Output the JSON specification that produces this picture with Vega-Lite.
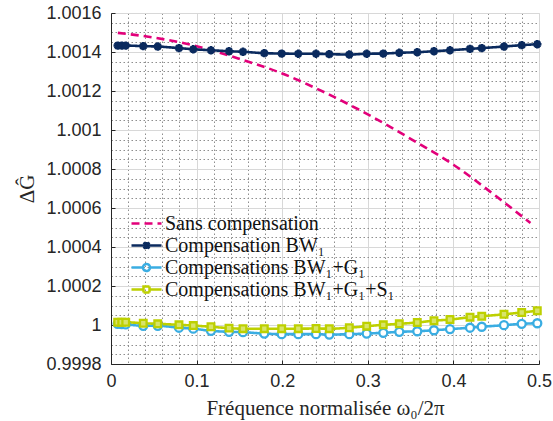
{
  "$schema": "https://vega.github.io/schema/vega-lite/v6.json",
  "width": 428,
  "height": 351,
  "autosize": "none",
  "padding": {"left": 111, "top": 13, "right": 14, "bottom": 57},
  "background": "white",
  "config": {
    "view": {"stroke": "#d9d9d9", "strokeWidth": 1}
  },
  "data": {
    "values": [
      {"s": "Sans compensation", "x": 0.008, "y": 1.001498},
      {"s": "Sans compensation", "x": 0.05, "y": 1.001474},
      {"s": "Sans compensation", "x": 0.1, "y": 1.00143},
      {"s": "Sans compensation", "x": 0.15, "y": 1.001365},
      {"s": "Sans compensation", "x": 0.2, "y": 1.00129},
      {"s": "Sans compensation", "x": 0.25, "y": 1.001192},
      {"s": "Sans compensation", "x": 0.3, "y": 1.00108},
      {"s": "Sans compensation", "x": 0.35, "y": 1.000955},
      {"s": "Sans compensation", "x": 0.4, "y": 1.000822},
      {"s": "Sans compensation", "x": 0.45, "y": 1.00066},
      {"s": "Sans compensation", "x": 0.49, "y": 1.000523},

      {"s": "Compensation BW₁", "x": 0.0078, "y": 1.001433},
      {"s": "Compensation BW₁", "x": 0.0125, "y": 1.001433},
      {"s": "Compensation BW₁", "x": 0.0172, "y": 1.001433},
      {"s": "Compensation BW₁", "x": 0.0377, "y": 1.00143},
      {"s": "Compensation BW₁", "x": 0.0546, "y": 1.001428},
      {"s": "Compensation BW₁", "x": 0.0794, "y": 1.00142},
      {"s": "Compensation BW₁", "x": 0.0961, "y": 1.001414},
      {"s": "Compensation BW₁", "x": 0.1168, "y": 1.001409},
      {"s": "Compensation BW₁", "x": 0.1379, "y": 1.001404},
      {"s": "Compensation BW₁", "x": 0.1542, "y": 1.001401},
      {"s": "Compensation BW₁", "x": 0.1791, "y": 1.001394},
      {"s": "Compensation BW₁", "x": 0.1994, "y": 1.001392},
      {"s": "Compensation BW₁", "x": 0.2188, "y": 1.001391},
      {"s": "Compensation BW₁", "x": 0.2395, "y": 1.001391},
      {"s": "Compensation BW₁", "x": 0.255, "y": 1.001389},
      {"s": "Compensation BW₁", "x": 0.2784, "y": 1.001387},
      {"s": "Compensation BW₁", "x": 0.2987, "y": 1.001391},
      {"s": "Compensation BW₁", "x": 0.3181, "y": 1.001392},
      {"s": "Compensation BW₁", "x": 0.3368, "y": 1.001396},
      {"s": "Compensation BW₁", "x": 0.3578, "y": 1.001399},
      {"s": "Compensation BW₁", "x": 0.3773, "y": 1.001404},
      {"s": "Compensation BW₁", "x": 0.396, "y": 1.001409},
      {"s": "Compensation BW₁", "x": 0.4194, "y": 1.001416},
      {"s": "Compensation BW₁", "x": 0.4331, "y": 1.00142},
      {"s": "Compensation BW₁", "x": 0.4591, "y": 1.001428},
      {"s": "Compensation BW₁", "x": 0.4798, "y": 1.001435},
      {"s": "Compensation BW₁", "x": 0.498, "y": 1.00144},

      {"s": "Compensations BW₁+G₁", "x": 0.0078, "y": 1.000006},
      {"s": "Compensations BW₁+G₁", "x": 0.0125, "y": 1.000004},
      {"s": "Compensations BW₁+G₁", "x": 0.0172, "y": 1.000003},
      {"s": "Compensations BW₁+G₁", "x": 0.0377, "y": 0.999996},
      {"s": "Compensations BW₁+G₁", "x": 0.0546, "y": 0.999996},
      {"s": "Compensations BW₁+G₁", "x": 0.0794, "y": 0.999986},
      {"s": "Compensations BW₁+G₁", "x": 0.0961, "y": 0.999981},
      {"s": "Compensations BW₁+G₁", "x": 0.1168, "y": 0.99997},
      {"s": "Compensations BW₁+G₁", "x": 0.1379, "y": 0.999965},
      {"s": "Compensations BW₁+G₁", "x": 0.1542, "y": 0.999963},
      {"s": "Compensations BW₁+G₁", "x": 0.1791, "y": 0.999956},
      {"s": "Compensations BW₁+G₁", "x": 0.1994, "y": 0.999953},
      {"s": "Compensations BW₁+G₁", "x": 0.2188, "y": 0.999953},
      {"s": "Compensations BW₁+G₁", "x": 0.2395, "y": 0.999953},
      {"s": "Compensations BW₁+G₁", "x": 0.255, "y": 0.999951},
      {"s": "Compensations BW₁+G₁", "x": 0.2784, "y": 0.999953},
      {"s": "Compensations BW₁+G₁", "x": 0.2987, "y": 0.999956},
      {"s": "Compensations BW₁+G₁", "x": 0.3181, "y": 0.99996},
      {"s": "Compensations BW₁+G₁", "x": 0.3368, "y": 0.999965},
      {"s": "Compensations BW₁+G₁", "x": 0.3578, "y": 0.999968},
      {"s": "Compensations BW₁+G₁", "x": 0.3773, "y": 0.999973},
      {"s": "Compensations BW₁+G₁", "x": 0.396, "y": 0.999979},
      {"s": "Compensations BW₁+G₁", "x": 0.4194, "y": 0.999986},
      {"s": "Compensations BW₁+G₁", "x": 0.4331, "y": 0.999991},
      {"s": "Compensations BW₁+G₁", "x": 0.4591, "y": 0.999999},
      {"s": "Compensations BW₁+G₁", "x": 0.4798, "y": 1.000006},
      {"s": "Compensations BW₁+G₁", "x": 0.498, "y": 1.000009},

      {"s": "Compensations BW₁+G₁+S₁", "x": 0.0078, "y": 1.000014},
      {"s": "Compensations BW₁+G₁+S₁", "x": 0.0125, "y": 1.000014},
      {"s": "Compensations BW₁+G₁+S₁", "x": 0.0172, "y": 1.000014},
      {"s": "Compensations BW₁+G₁+S₁", "x": 0.0377, "y": 1.000009},
      {"s": "Compensations BW₁+G₁+S₁", "x": 0.0546, "y": 1.000006},
      {"s": "Compensations BW₁+G₁+S₁", "x": 0.0794, "y": 1.000001},
      {"s": "Compensations BW₁+G₁+S₁", "x": 0.0961, "y": 0.999997},
      {"s": "Compensations BW₁+G₁+S₁", "x": 0.1168, "y": 0.999991},
      {"s": "Compensations BW₁+G₁+S₁", "x": 0.1379, "y": 0.999984},
      {"s": "Compensations BW₁+G₁+S₁", "x": 0.1542, "y": 0.999981},
      {"s": "Compensations BW₁+G₁+S₁", "x": 0.1791, "y": 0.999981},
      {"s": "Compensations BW₁+G₁+S₁", "x": 0.1994, "y": 0.999981},
      {"s": "Compensations BW₁+G₁+S₁", "x": 0.2188, "y": 0.999981},
      {"s": "Compensations BW₁+G₁+S₁", "x": 0.2395, "y": 0.999982},
      {"s": "Compensations BW₁+G₁+S₁", "x": 0.255, "y": 0.999981},
      {"s": "Compensations BW₁+G₁+S₁", "x": 0.2784, "y": 0.999986},
      {"s": "Compensations BW₁+G₁+S₁", "x": 0.2987, "y": 0.999994},
      {"s": "Compensations BW₁+G₁+S₁", "x": 0.3181, "y": 1.000001},
      {"s": "Compensations BW₁+G₁+S₁", "x": 0.3368, "y": 1.000006},
      {"s": "Compensations BW₁+G₁+S₁", "x": 0.3578, "y": 1.000013},
      {"s": "Compensations BW₁+G₁+S₁", "x": 0.3773, "y": 1.000022},
      {"s": "Compensations BW₁+G₁+S₁", "x": 0.396, "y": 1.000028},
      {"s": "Compensations BW₁+G₁+S₁", "x": 0.4194, "y": 1.00004},
      {"s": "Compensations BW₁+G₁+S₁", "x": 0.4331, "y": 1.000045},
      {"s": "Compensations BW₁+G₁+S₁", "x": 0.4591, "y": 1.000055},
      {"s": "Compensations BW₁+G₁+S₁", "x": 0.4798, "y": 1.000064},
      {"s": "Compensations BW₁+G₁+S₁", "x": 0.498, "y": 1.000073}
    ]
  },
  "encoding": {
    "x": {
      "field": "x", "type": "quantitative",
      "scale": {"domain": [0, 0.5], "nice": false, "zero": false},
      "axis": {
        "values": [0,0.02,0.04,0.06,0.08,0.1,0.12,0.14,0.16,0.18,0.2,0.22,0.24,0.26,0.28,0.3,0.32,0.34,0.36,0.38,0.4,0.42,0.44,0.46,0.48,0.5],
        "format": "~g", "labelFlush": false, "labelOverlap": false,
        "labelExpr": "abs(datum.value*10 - round(datum.value*10)) < 0.000001 ? datum.label : ''",
        "grid": true,
        "gridColor": {"condition": {"test": "abs(datum.value*10 - round(datum.value*10)) < 0.000001", "value": "#d8d8d8"}, "value": "#8e8e8e"},
        "gridDash": {"condition": {"test": "abs(datum.value*10 - round(datum.value*10)) < 0.000001", "value": []}, "value": [1.5, 2.5]},
        "gridWidth": 1,
        "domainColor": "#262626", "domainWidth": 1,
        "tickColor": "#262626", "tickSize": -4,
        "tickOpacity": {"condition": {"test": "abs(datum.value*10 - round(datum.value*10)) < 0.000001", "value": 1}, "value": 0},
        "labelFont": "Liberation Sans", "labelFontSize": 18, "labelColor": "#262626", "labelPadding": 12,
        "title": "Fréquence normalisée ω₀/2π",
        "titleFont": "Liberation Serif", "titleFontSize": 21, "titleFontWeight": "normal", "titleColor": "#262626", "titlePadding": 7
      }
    },
    "y": {
      "field": "y", "type": "quantitative",
      "scale": {"domain": [0.9998, 1.0016], "nice": false, "zero": false},
      "axis": {
        "values": [0.9998,0.99985,0.9999,0.99995,1,1.00005,1.0001,1.00015,1.0002,1.00025,1.0003,1.00035,1.0004,1.00045,1.0005,1.00055,1.0006,1.00065,1.0007,1.00075,1.0008,1.00085,1.0009,1.00095,1.001,1.00105,1.0011,1.00115,1.0012,1.00125,1.0013,1.00135,1.0014,1.00145,1.0015,1.00155,1.0016],
        "format": "~g", "labelFlush": false, "labelOverlap": false,
        "labelExpr": "abs((datum.value-1)/0.0002 - round((datum.value-1)/0.0002)) < 0.001 ? datum.label : ''",
        "grid": true,
        "gridColor": {"condition": {"test": "abs((datum.value-1)/0.0002 - round((datum.value-1)/0.0002)) < 0.001", "value": "#d8d8d8"}, "value": "#8e8e8e"},
        "gridDash": {"condition": {"test": "abs((datum.value-1)/0.0002 - round((datum.value-1)/0.0002)) < 0.001", "value": []}, "value": [1.5, 2.5]},
        "gridWidth": 1,
        "domainColor": "#262626", "domainWidth": 1,
        "tickColor": "#262626", "tickSize": -4,
        "tickOpacity": {"condition": {"test": "abs((datum.value-1)/0.0002 - round((datum.value-1)/0.0002)) < 0.001", "value": 1}, "value": 0},
        "labelFont": "Liberation Sans", "labelFontSize": 18, "labelColor": "#262626", "labelPadding": 14,
        "title": "ΔĜ",
        "titleFont": "Liberation Serif", "titleFontSize": 21, "titleFontWeight": "normal", "titleColor": "#262626", "titlePadding": 8
      }
    }
  },
  "layer": [
    {
      "mark": {"type": "line", "strokeWidth": 2.6, "interpolate": "monotone"},
      "encoding": {
        "color": {
          "field": "s", "type": "nominal",
          "scale": {
            "domain": ["Sans compensation", "Compensation BW₁", "Compensations BW₁+G₁", "Compensations BW₁+G₁+S₁"],
            "range": ["#e2007a", "#0a2a5e", "#3aade2", "#bdd000"]
          },
          "legend": {
            "title": null, "orient": "none", "legendX": 24, "legendY": 199,
            "padding": 0, "rowPadding": -1.5, "labelOffset": 7, "labelLimit": 400,
            "labelFont": "Liberation Serif", "labelFontSize": 20, "labelColor": "#111111",
            "symbolType": "M-1.5,0L1.5,0", "symbolSize": 400, "symbolStrokeWidth": 2.5,
            "encode": {"symbols": {"update": {"shape": {"signal": "datum.value === 'Compensation BW₁' ? 'M-1.5,0L1.5,0M0,-0.35L0,0.35M-0.3,-0.3L0.3,0.3M-0.3,0.3L0.3,-0.3' : datum.value === 'Compensations BW₁+G₁' ? 'M-1.5,0L-0.35,0M0.35,0L1.5,0M-0.35,0A0.35,0.35 0 1,0 0.35,0A0.35,0.35 0 1,0 -0.35,0' : datum.value === 'Compensations BW₁+G₁+S₁' ? 'M-1.5,0L-0.3,0M0.3,0L1.5,0M-0.3,-0.3L0.3,-0.3L0.3,0.3L-0.3,0.3Z' : 'M-1.5,0L1.5,0'"}}}}
          }
        },
        "strokeDash": {
          "field": "s", "type": "nominal",
          "scale": {
            "domain": ["Sans compensation", "Compensation BW₁", "Compensations BW₁+G₁", "Compensations BW₁+G₁+S₁"],
            "range": [[8, 5], [1, 0], [1, 0], [1, 0]]
          },
          "legend": {
            "title": null, "orient": "none", "legendX": 24, "legendY": 199,
            "padding": 0, "rowPadding": -1.5, "labelOffset": 7, "labelLimit": 400,
            "labelFont": "Liberation Serif", "labelFontSize": 20, "labelColor": "#111111",
            "symbolType": "M-1.5,0L1.5,0", "symbolSize": 400, "symbolStrokeWidth": 2.5,
            "encode": {"symbols": {"update": {"shape": {"signal": "datum.value === 'Compensation BW₁' ? 'M-1.5,0L1.5,0M0,-0.35L0,0.35M-0.3,-0.3L0.3,0.3M-0.3,0.3L0.3,-0.3' : datum.value === 'Compensations BW₁+G₁' ? 'M-1.5,0L-0.35,0M0.35,0L1.5,0M-0.35,0A0.35,0.35 0 1,0 0.35,0A0.35,0.35 0 1,0 -0.35,0' : datum.value === 'Compensations BW₁+G₁+S₁' ? 'M-1.5,0L-0.3,0M0.3,0L1.5,0M-0.3,-0.3L0.3,-0.3L0.3,0.3L-0.3,0.3Z' : 'M-1.5,0L1.5,0'"}}}}
          }
        }
      }
    },
    {
      "transform": [{"filter": "datum.s === 'Compensation BW₁'"}],
      "mark": {"type": "point", "shape": "M-1,0L1,0M0,-1L0,1M-0.7,-0.7L0.7,0.7M-0.7,0.7L0.7,-0.7", "size": 70, "strokeWidth": 2.6, "stroke": "#0a2a5e", "filled": false, "opacity": 1}
    },
    {
      "transform": [{"filter": "datum.s === 'Compensations BW₁+G₁'"}],
      "mark": {"type": "point", "shape": "circle", "size": 64, "strokeWidth": 2.3, "stroke": "#3aade2", "fill": "white", "filled": true, "opacity": 1, "fillOpacity": 1}
    },
    {
      "transform": [{"filter": "datum.s === 'Compensations BW₁+G₁+S₁'"}],
      "mark": {"type": "point", "shape": "square", "size": 44, "strokeWidth": 2.3, "stroke": "#bdd000", "fill": "#d8e46a", "filled": true, "opacity": 1, "fillOpacity": 1}
    }
  ]
}
